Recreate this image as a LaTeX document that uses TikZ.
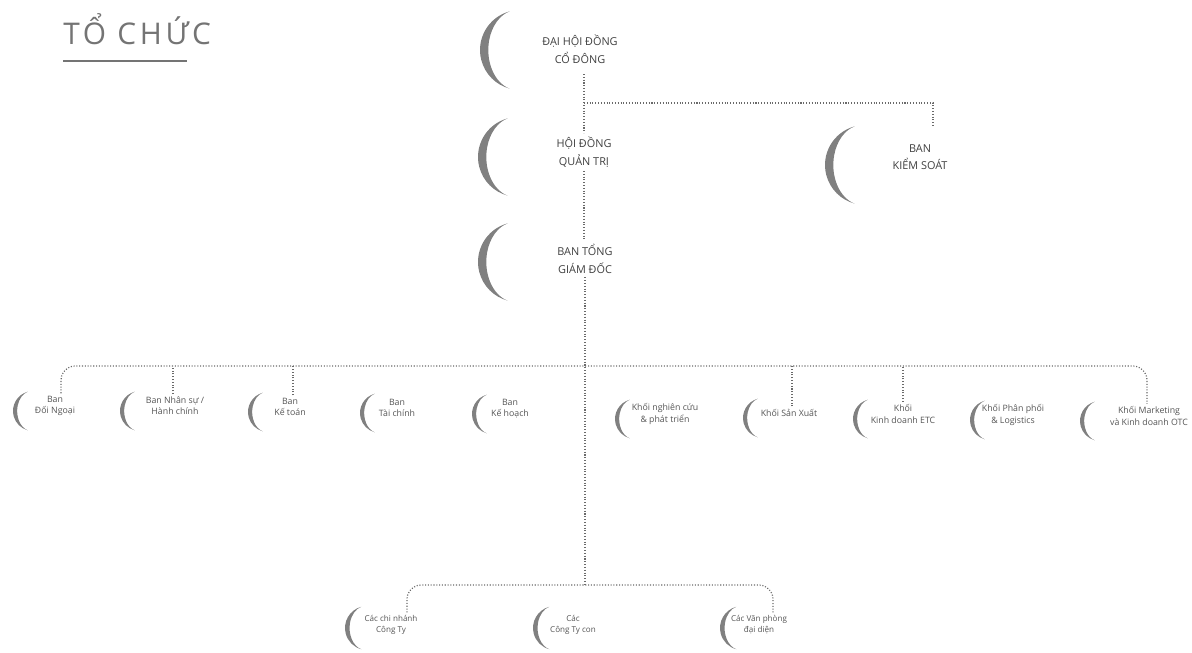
\documentclass[tikz,border=0pt]{standalone}
\usepackage{fontspec}
\setmainfont{Open Sans}
\usetikzlibrary{calc}

\definecolor{inkgray}{HTML}{404040}
\definecolor{deptgray}{HTML}{555555}
\definecolor{crestgray}{HTML}{808080}
\definecolor{dotgray}{HTML}{6A6A6A}
\definecolor{titlegray}{HTML}{747474}

\tikzset{
	link/.style={draw=dotgray, line width=0.7pt, dash pattern=on 0.6pt off 1pt},
	crestfill/.style={fill=crestgray},
}

% crescent bracket: #1 leftmost point, #2 radius in cm
\newcommand{\crest}[2]{%
	\fill[crestfill] (#1) ++({0.741*#2cm},{0.966*#2cm})
		arc[start angle=105, end angle=255, radius=#2cm]
		arc[start angle=255, end angle=105, x radius={0.72*#2cm}, y radius=#2cm] -- cycle;}

\begin{document}
\begin{tikzpicture}[x=0.02cm, y=-0.02cm]
	\useasboundingbox (0,0) rectangle (1192,652);

	% title
	\node[anchor=base west, inner sep=0pt, text=titlegray, font=\fontsize{17}{20}\selectfont\addfontfeature{LetterSpace=12}] (title) at (63,45) {TỔ CHỨC};
	\draw[titlegray, line width=1.2pt] (63,61) -- (187,61);

	\begin{scope}[every node/.style={align=center, text=inkgray, inner sep=2pt, font=\fontsize{6.2}{10}\selectfont}]
		\node (dh) at (580,49) {ĐẠI HỘI ĐỒNG\\CỔ ĐÔNG};
		\node (hd) at (584,152) {HỘI ĐỒNG\\QUẢN TRỊ};
		\node (bk) at (920,157) {BAN\\KIỂM SOÁT};
		\node (bt) at (585,259) {BAN TỔNG\\GIÁM ĐỐC};
	\end{scope}

	\begin{scope}[every node/.style={align=center, text=deptgray, inner sep=1.5pt, font=\fontsize{5}{6.3}\selectfont}]
		\node (d1) at (55,406) {Ban\\Đối Ngoại};
		\node (d2) at (175,406) {Ban Nhân sự /\\Hành chính};
		\node (d3) at (290,407) {Ban\\Kế toán};
		\node (d4) at (397,408) {Ban\\Tài chính};
		\node (d5) at (510,409) {Ban\\Kế hoạch};
		\node (d6) at (665,414) {Khối nghiên cứu\\\& phát triển};
		\node (d7) at (789,413) {Khối Sản Xuất};
		\node (d8) at (903,414) {Khối\\Kinh doanh ETC};
		\node (d9) at (1013,415) {Khối Phân phối\\\& Logistics};
		\node (d10) at (1149,416) {Khối Marketing\\và Kinh doanh OTC};
	\end{scope}

	\begin{scope}[every node/.style={align=center, text=deptgray, inner sep=1.5pt, font=\fontsize{4.6}{6.3}\selectfont}]
		\node (b1) at (391,625) {Các chi nhánh\\Công Ty};
		\node (b2) at (573,625) {Các\\Công Ty con};
		\node (b3) at (759,625) {Các Văn phòng\\đại diện};
	\end{scope}

	% brackets
	\crest{$(dh)+(-100,1)$}{0.8}
	\crest{$(hd)+(-106,5)$}{0.8}
	\crest{$(bk)+(-95,8)$}{0.8}
	\crest{$(bt)+(-107,3)$}{0.8}
	\foreach \n/\dx in {d1/-42, d2/-55, d3/-42, d4/-37, d5/-38, d6/-50, d7/-46, d8/-50, d9/-43, d10/-69}
		\crest{$(\n)+(\dx,5)$}{0.4};
	\foreach \n/\dx in {b1/-46, b2/-40, b3/-39}
		\crest{$(\n)+(\dx,3)$}{0.44};

	% connectors
	\coordinate (j1) at (584,103);
	\coordinate (j2) at (584,366);
	\coordinate (j3) at (584,585);

	\draw[link, shorten <=4pt] (dh.south -| hd.north) -- (hd.north);
	\draw[link] (j1) -| ($(bk.north)+(13,-15)$);
	\draw[link] (hd.south) -- (hd.south |- bt.north);
	\draw[link] (bt.south) -- (bt.south |- j3);

	\draw[link, rounded corners=8pt] ($(d1.north)+(6,0)$) |- (j2) -| ($(d10.north)+(-2,0)$);
	\foreach \n/\dx in {d2/-2, d3/3, d7/3, d8/0}
		\draw[link] ($(\n.north)+(\dx,0)$) -- ($(\n.north |- j2)+(\dx,0)$);

	\draw[link, rounded corners=8pt] ($(b1.north)+(16,0)$) |- (j3) -| ($(b3.north)+(14,0)$);

\end{tikzpicture}
\end{document}
